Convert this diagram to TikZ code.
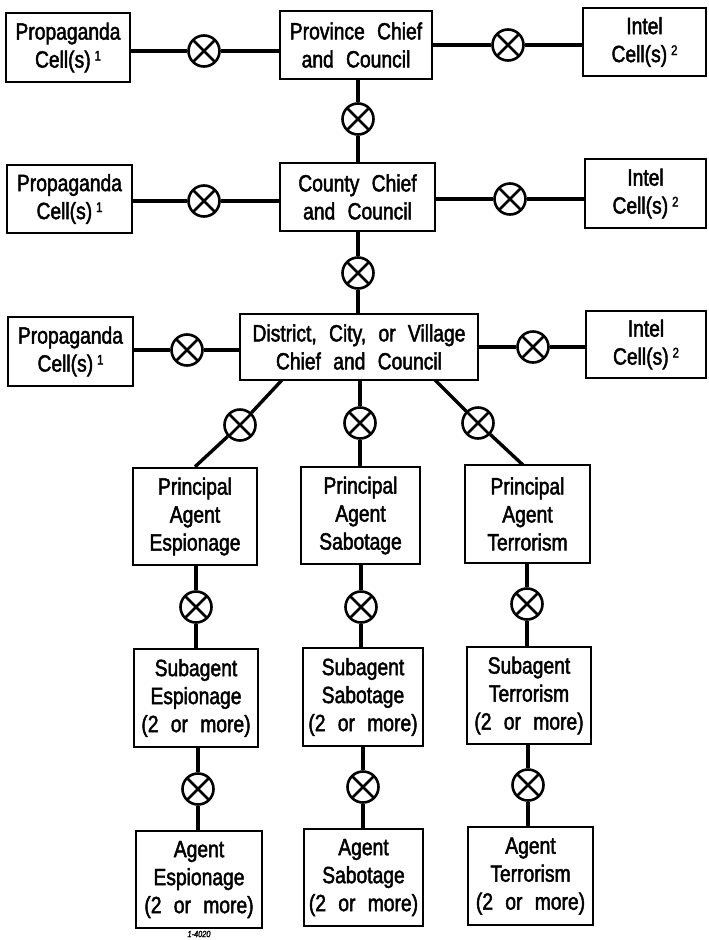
\documentclass[tikz,border=0pt]{standalone}
\usepackage{fontspec}
\setmainfont{Liberation Sans}[FakeStretch=0.82, WordSpace=2.3, FakeBold=2]
\newcommand\mainsz{\fontsize{23.5}{28}\selectfont}
\newcommand\supnum[1]{\,\raisebox{0.3em}{\fontsize{14}{14}\selectfont #1}}
\begin{document}
\begin{tikzpicture}[x=1pt,y=-1pt,
  box/.style={draw, line width=2.5pt, align=center, inner sep=0pt, font=\mainsz},
  conn/.style={line width=3.4pt},
  xc/.style={circle, draw, line width=2.6pt, minimum size=31pt, inner sep=0pt, fill=white,
    path picture={\draw[line width=2.6pt]
      (path picture bounding box.south west) -- (path picture bounding box.north east)
      (path picture bounding box.north west) -- (path picture bounding box.south east);}},
  note/.style={font=\fontsize{9}{9}\selectfont\itshape, inner sep=0pt}]
\useasboundingbox (0,0) rectangle (709,940);
% row 1
\node[box, minimum width=124pt, minimum height=69pt] (P1) at (68,47.5) {Propaganda\\Cell(s)\supnum{1}};
\node[box, minimum width=152pt, minimum height=68pt] (Prov) at (356,45) {Province Chief\\and Council};
\node[box, minimum width=123pt, minimum height=68pt] (I1) at (644.5,42) {Intel\\Cell(s)\supnum{2}};
\node[xc] (c1L) at (204,51) {};
\node[xc] (c1R) at (508,45) {};
\node[xc] (cv1) at (358,119) {};
% row 2
\node[box, minimum width=125pt, minimum height=68pt] (P2) at (69.5,199) {Propaganda\\Cell(s)\supnum{1}};
\node[box, minimum width=155pt, minimum height=68pt] (Cty) at (357.5,197) {County Chief\\and Council};
\node[box, minimum width=121pt, minimum height=69pt] (I2) at (645.5,193.5) {Intel\\Cell(s)\supnum{2}};
\node[xc] (c2L) at (204,201) {};
\node[xc] (c2R) at (510,199) {};
\node[xc] (cv2) at (358,273) {};
% row 3
\node[box, minimum width=125pt, minimum height=69pt] (P3) at (70.5,351.5) {Propaganda\\Cell(s)\supnum{1}};
\node[box, minimum width=238pt, minimum height=66pt] (Dst) at (359,347) {District, City, or Village\\Chief and Council};
\node[box, minimum width=120pt, minimum height=67pt] (I3) at (646,344.5) {Intel\\Cell(s)\supnum{2}};
\node[xc] (c3L) at (187,350) {};
\node[xc] (c3R) at (533,347) {};
% diagonal branch
\coordinate (dA) at (282,380);
\coordinate (dC) at (435,380);
\coordinate (dF) at (523,465);
\node[xc] (cD1) at (240,425) {};
\node[xc] (cD2) at (360,423) {};
\node[xc] (cD3) at (478,423) {};
% principal agents
\node[box, minimum width=124pt, minimum height=97pt] (PE) at (195,516.5) {Principal\\Agent\\Espionage};
\node[box, minimum width=119pt, minimum height=97pt] (PS) at (360.5,515.5) {Principal\\Agent\\Sabotage};
\node[box, minimum width=125pt, minimum height=98pt] (PT) at (527.5,514) {Principal\\Agent\\Terrorism};
\node[xc] (cE1) at (196,607) {};
\node[xc] (cS1) at (361,607) {};
\node[xc] (cT1) at (527,604) {};
% subagents
\node[box, minimum width=124pt, minimum height=98pt] (SE) at (196,698) {Subagent\\Espionage\\(2 or more)};
\node[box, minimum width=120pt, minimum height=98pt] (SS) at (363,697) {Subagent\\Sabotage\\(2 or more)};
\node[box, minimum width=124pt, minimum height=97pt] (ST) at (529,695.5) {Subagent\\Terrorism\\(2 or more)};
\node[xc] (cE2) at (198,789) {};
\node[xc] (cS2) at (363,787) {};
\node[xc] (cT2) at (528,785) {};
% agents
\node[box, minimum width=126pt, minimum height=97pt] (AE) at (199,879.5) {Agent\\Espionage\\(2 or more)};
\node[box, minimum width=119pt, minimum height=97pt] (AS) at (363.5,877.5) {Agent\\Sabotage\\(2 or more)};
\node[box, minimum width=125pt, minimum height=98pt] (AT) at (530.5,876) {Agent\\Terrorism\\(2 or more)};
\node[note] (num) at (199,934) {1-4020};
% connectors
\begin{scope}[conn]
\draw (c1L) -- (c1L -| P1.east);  \draw (c1L) -- (c1L -| Prov.west);
\draw (c1R) -- (c1R -| Prov.east); \draw (c1R) -- (c1R -| I1.west);
\draw (cv1) -- (cv1 |- Prov.south); \draw (cv1) -- (cv1 |- Cty.north);
\draw (c2L) -- (c2L -| P2.east);  \draw (c2L) -- (c2L -| Cty.west);
\draw (c2R) -- (c2R -| Cty.east); \draw (c2R) -- (c2R -| I2.west);
\draw (cv2) -- (cv2 |- Cty.south); \draw (cv2) -- (cv2 |- Dst.north);
\draw (c3L) -- (c3L -| P3.east);  \draw (c3L) -- (c3L -| Dst.west);
\draw (c3R) -- (c3R -| Dst.east); \draw (c3R) -- (c3R -| I3.west);
\draw (dA) -- (cD1) -- (PE.north);
\draw (cD2) -- (cD2 |- Dst.south); \draw (cD2) -- (cD2 |- PS.north);
\draw (dC) -- (cD3) -- (dF);
\draw (cE1) -- (cE1 |- PE.south); \draw (cE1) -- (cE1 |- SE.north);
\draw (cS1) -- (cS1 |- PS.south); \draw (cS1) -- (cS1 |- SS.north);
\draw (cT1) -- (cT1 |- PT.south); \draw (cT1) -- (cT1 |- ST.north);
\draw (cE2) -- (cE2 |- SE.south); \draw (cE2) -- (cE2 |- AE.north);
\draw (cS2) -- (cS2 |- SS.south); \draw (cS2) -- (cS2 |- AS.north);
\draw (cT2) -- (cT2 |- ST.south); \draw (cT2) -- (cT2 |- AT.north);
\end{scope}
\end{tikzpicture}
\end{document}
